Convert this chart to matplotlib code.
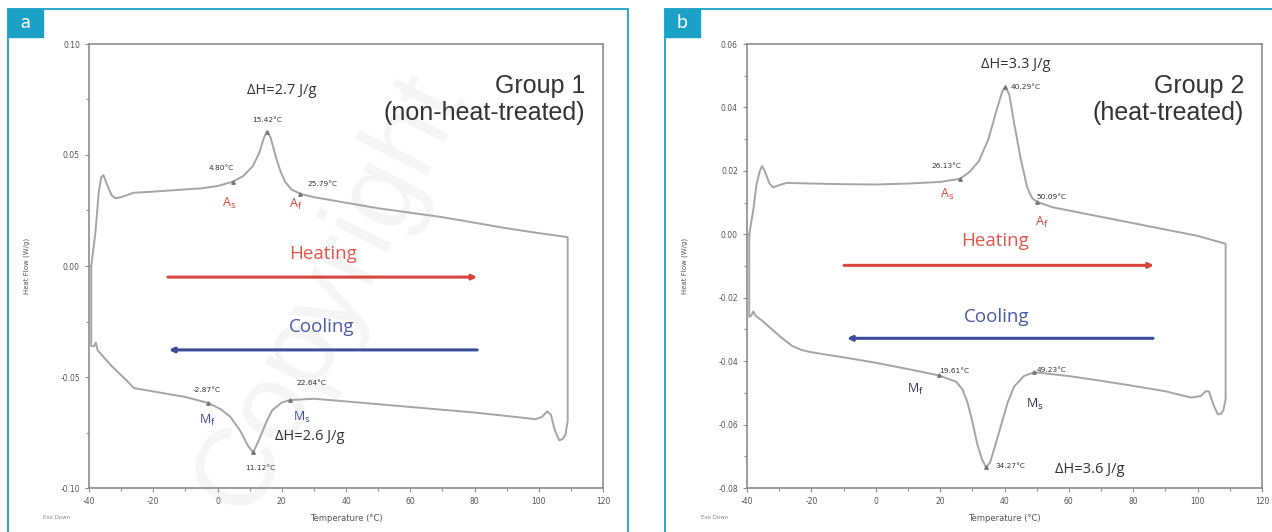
import matplotlib
matplotlib.use("Agg")
import matplotlib.pyplot as plt
from matplotlib.patches import Rectangle
from matplotlib.ticker import MultipleLocator, FormatStrFormatter

plt.rcParams["axes.unicode_minus"] = False

# --- Group 1 (non-heat-treated): heating run, then cooling run (high T -> low T)
heat1_t = [-39.3, -38.0, -37.0, -36.2, -35.5, -34.5, -33.0, -31.8, -30.0, -26.0, -20.0, -10.0, -5.0,
           0.0, 4.8, 8.0, 11.0, 13.0, 14.5, 15.42, 16.5, 18.0, 19.5, 21.0, 23.0, 25.79, 30.0, 40.0,
           50.0, 60.0, 70.0, 80.0, 90.0, 100.0, 109.0]
heat1_q = [0.000, 0.015, 0.033, 0.040, 0.041, 0.037, 0.032, 0.0305, 0.031, 0.033, 0.0335, 0.0345, 0.035,
           0.036, 0.038, 0.0405, 0.045, 0.051, 0.058, 0.0605, 0.058, 0.050, 0.043, 0.038, 0.0345, 0.0325,
           0.031, 0.0285, 0.026, 0.024, 0.022, 0.0195, 0.017, 0.0148, 0.013]
cool1_t = [109.0, 108.3, 107.4, 106.4, 105.0, 103.8, 102.6, 101.0, 99.0, 96.0, 80.0, 60.0, 40.0, 30.0,
           22.64, 20.0, 17.0, 15.0, 13.0, 11.12, 9.5, 7.0, 4.0, 1.0, -2.87, -10.0, -20.0, -26.0, -28.0,
           -33.0, -37.3, -37.9, -38.4, -39.3, -39.3]
cool1_q = [-0.070, -0.076, -0.078, -0.0785, -0.074, -0.067, -0.0655, -0.068, -0.069, -0.0685, -0.066,
           -0.0635, -0.061, -0.0598, -0.0604, -0.0615, -0.065, -0.071, -0.078, -0.0840, -0.081, -0.074,
           -0.068, -0.0645, -0.0617, -0.059, -0.0565, -0.055, -0.052, -0.045, -0.038, -0.0345, -0.0362,
           -0.036, 0.000]

# --- Group 2 (heat-treated)
heat2_t = [-39.3, -38.0, -37.0, -36.0, -35.3, -34.5, -33.0, -31.9, -30.0, -27.6, -20.0, -10.0, 0.0,
           10.0, 20.0, 26.13, 29.0, 32.0, 35.0, 37.5, 39.3, 40.29, 41.5, 43.0, 45.0, 47.0, 48.5, 50.09,
           55.0, 60.0, 70.0, 80.0, 90.0, 100.0, 108.7]
heat2_q = [0.000, 0.008, 0.016, 0.020, 0.0215, 0.020, 0.016, 0.0148, 0.0155, 0.0162, 0.016, 0.0158,
           0.0157, 0.016, 0.0165, 0.0175, 0.0195, 0.023, 0.030, 0.039, 0.045, 0.0465, 0.044, 0.035, 0.024,
           0.015, 0.0115, 0.0102, 0.0085, 0.0075, 0.0055, 0.0035, 0.0015, -0.0005, -0.003]
cool2_t = [108.7, 108.0, 107.3, 106.3, 105.0, 103.5, 102.5, 101.0, 98.0, 90.0, 80.0, 70.0, 60.0, 49.23,
           46.0, 43.0, 41.0, 39.0, 37.0, 35.5, 34.27, 33.0, 31.5, 30.0, 28.5, 27.0, 25.0, 19.61, 10.0,
           0.0, -10.0, -20.0, -23.0, -26.0, -30.0, -35.0, -37.5, -38.0, -38.8, -39.3, -39.3]
cool2_q = [-0.052, -0.0555, -0.0566, -0.0568, -0.054, -0.0495, -0.0495, -0.051, -0.0515, -0.0495,
           -0.0478, -0.0462, -0.0447, -0.0435, -0.0447, -0.048, -0.053, -0.060, -0.067, -0.072, -0.0735,
           -0.071, -0.066, -0.059, -0.053, -0.049, -0.0465, -0.0445, -0.0425, -0.0405, -0.0388, -0.0372,
           -0.0365, -0.0352, -0.032, -0.0275, -0.0255, -0.0243, -0.0258, -0.026, 0.000]

# characteristic temperatures: (temp, heat flow)
onsets1_t = [4.80, 15.42, 25.79, -2.87, 11.12, 22.64]
onsets1_q = [0.038, 0.0605, 0.0325, -0.0617, -0.084, -0.0604]
onsets2_t = [26.13, 40.29, 50.09, 19.61, 34.27, 49.23]
onsets2_q = [0.0175, 0.0465, 0.0102, -0.0445, -0.0735, -0.0435]

fig = plt.figure(figsize=(12.72, 5.32), dpi=100)
fig.patch.set_facecolor("white")

CYAN = "#1ba1c5"
GRAYC = "#a5a5a5"
RED = "#d9463d"
BLUE = "#3c4c9c"

# faint watermark, behind everything
fig.text(330 / 1272, 0.45, "Copyright", rotation=63, fontsize=80, color="#f5f5f5",
         ha="center", va="center", family="Liberation Sans", zorder=-5)

# panel frames and letter boxes
for x0, w, lab in [(8, 620, "a"), (665, 620, "b")]:
    fig.add_artist(Rectangle((x0 / 1272, -0.01), w / 1272, 1 - 9 / 532 + 0.01,
                             transform=fig.transFigure, fill=False, edgecolor=CYAN, lw=1.3))
    fig.add_artist(Rectangle((x0 / 1272, 1 - 37 / 532), 35 / 1272, 28 / 532,
                             transform=fig.transFigure, facecolor=CYAN, edgecolor=CYAN))
    fig.text((x0 + 17.5) / 1272, 1 - 23 / 532, lab, color="white", fontsize=14,
             ha="center", va="center", family="Lato")


def setup(ax, ylim, ymaj):
    ax.set_xlim(-40, 120)
    ax.set_ylim(*ylim)
    ax.set_facecolor("none")
    for s in ax.spines.values():
        s.set_color("#8c8c8c")
        s.set_linewidth(1.2)
    ax.xaxis.set_major_locator(MultipleLocator(20))
    ax.xaxis.set_minor_locator(MultipleLocator(10))
    ax.yaxis.set_major_locator(MultipleLocator(ymaj))
    ax.yaxis.set_minor_locator(MultipleLocator(ymaj / 2))
    ax.yaxis.set_major_formatter(FormatStrFormatter("%.2f"))
    ax.tick_params(which="both", direction="out", color="#8c8c8c", labelsize=5.5,
                   labelcolor="#555555", length=3, width=0.8)
    ax.tick_params(which="minor", length=2)
    ax.set_xlabel("Temperature (°C)", fontsize=6, color="#555555", labelpad=6)
    ax.set_ylabel("Heat Flow (W/g)", fontsize=5, color="#555555", labelpad=22)
    ax.text(-0.09, -0.07, "Exo Down", transform=ax.transAxes, fontsize=4, color="#888888")


def draw(ax, ht, hq, ct, cq, ot, oq):
    ax.plot(ht + ct, hq + cq, color=GRAYC, lw=1.4, zorder=3)
    ax.plot(ot, oq, ls="none", marker="^", ms=2.5, color="#777777", zorder=4)


def arrows(ax, hx, hy, cx, cy, htxt, ctxt):
    ax.annotate("", xy=(hx[1], hy), xytext=(hx[0], hy),
                arrowprops=dict(arrowstyle="-|>", color=RED, lw=2.2, mutation_scale=7))
    ax.annotate("", xy=(cx[0], cy), xytext=(cx[1], cy),
                arrowprops=dict(arrowstyle="-|>", color=BLUE, lw=2.2, mutation_scale=7))
    ax.text(htxt[0], htxt[1], "Heating", color="#e0574e", fontsize=13.5, ha="center",
            va="center", family="Open Sans")
    ax.text(ctxt[0], ctxt[1], "Cooling", color="#4a5aa5", fontsize=13.5, ha="center",
            va="center", family="Open Sans")


def group_title(ax, l1, l2):
    kw = dict(transform=ax.transAxes, fontsize=18, color="#333333", ha="right",
              va="center", family="Liberation Sans")
    ax.text(0.965, 0.905, l1, **kw)
    ax.text(0.965, 0.845, l2, **kw)


small = dict(fontsize=5.3, color="#333333", ha="center", va="center")
lbl = dict(fontsize=9, family="Open Sans", ha="center", va="center")
dh = dict(fontsize=10.5, color="#333333", ha="center", va="center", family="Open Sans")

# ---------- panel a
ax1 = fig.add_axes([89 / 1272, 1 - 488 / 532, 514 / 1272, 444 / 532])
setup(ax1, (-0.10, 0.10), 0.05)
draw(ax1, heat1_t, heat1_q, cool1_t, cool1_q, onsets1_t, onsets1_q)
arrows(ax1, (-16.3, 81.7), -0.005, (-16.0, 81.7), -0.0378, (32.8, 0.0054), (32.5, -0.0275))
ax1.text(20.1, 0.0790, "ΔH=2.7 J/g", **dh)
ax1.text(15.4, 0.0658, "15.42°C", **small)
ax1.text(1.3, 0.0441, "4.80°C", **small)
ax1.text(32.5, 0.0370, "25.79°C", **small)
ax1.text(-3.3, -0.0559, "-2.87°C", **small)
ax1.text(29.1, -0.0527, "22.64°C", **small)
ax1.text(13.2, -0.0910, "11.12°C", **small)
ax1.text(3.5, 0.0284, "A$_\\mathrm{s}$", color=RED, **lbl)
ax1.text(24.2, 0.0275, "A$_\\mathrm{f}$", color=RED, **lbl)
ax1.text(-3.3, -0.0694, "M$_\\mathrm{f}$", color=BLUE, **lbl)
ax1.text(26.3, -0.0680, "M$_\\mathrm{s}$", color=BLUE, **lbl)
ax1.text(28.8, -0.0766, "ΔH=2.6 J/g", **dh)
group_title(ax1, "Group 1", "(non-heat-treated)")

# ---------- panel b
ax2 = fig.add_axes([747 / 1272, 1 - 488 / 532, 515 / 1272, 444 / 532])
setup(ax2, (-0.08, 0.06), 0.02)
draw(ax2, heat2_t, heat2_q, cool2_t, cool2_q, onsets2_t, onsets2_q)
arrows(ax2, (-10.7, 87.3), -0.0098, (-9.8, 87.0), -0.0328, (37.0, -0.0022), (37.6, -0.0262))
ax2.text(43.5, 0.0536, "ΔH=3.3 J/g", **dh)
ax2.text(46.5, 0.0463, "40.29°C", **small)
ax2.text(22.0, 0.0214, "26.13°C", **small)
ax2.text(54.5, 0.0117, "50.09°C", **small)
ax2.text(24.5, -0.0432, "19.61°C", **small)
ax2.text(54.7, -0.0428, "49.23°C", **small)
ax2.text(41.7, -0.0732, "34.27°C", **small)
ax2.text(22.3, 0.0126, "A$_\\mathrm{s}$", color=RED, **lbl)
ax2.text(51.6, 0.0038, "A$_\\mathrm{f}$", color=RED, **lbl)
ax2.text(12.2, -0.0489, "M$_\\mathrm{f}$", color="#333355", **lbl)
ax2.text(49.4, -0.0536, "M$_\\mathrm{s}$", color="#333355", **lbl)
ax2.text(66.5, -0.0741, "ΔH=3.6 J/g", **dh)
group_title(ax2, "Group 2", "(heat-treated)")

fig.savefig("out.png", dpi=100)
